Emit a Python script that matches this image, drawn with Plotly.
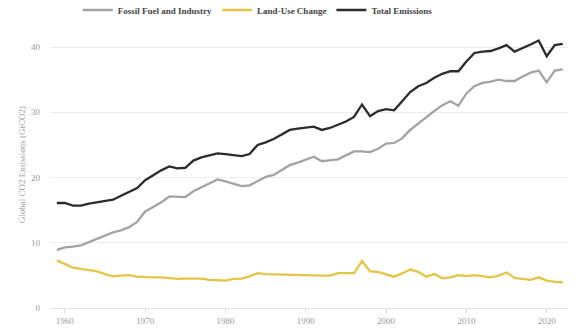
import plotly.graph_objects as go

years = list(range(1959, 2023))

fossil = [8.9, 9.3, 9.4, 9.6, 10.1, 10.6, 11.1, 11.6, 11.9, 12.4, 13.2,
          14.8, 15.5, 16.2, 17.1, 17.0, 17.0, 17.9, 18.5, 19.1, 19.7,
          19.4, 19.0, 18.7, 18.8, 19.5, 20.1, 20.4, 21.1, 21.9, 22.3,
          22.7, 23.2, 22.5, 22.7, 22.8, 23.4, 24.0, 24.0, 23.9, 24.4,
          25.2, 25.3, 26.0, 27.3, 28.3, 29.3, 30.2, 31.1, 31.7, 31.0,
          32.9, 34.0, 34.5, 34.7, 35.0, 34.8, 34.8, 35.5, 36.1, 36.4,
          34.6, 36.4, 36.6]

land_use = [7.3, 6.75, 6.2, 6.0, 5.8, 5.6, 5.2, 4.85, 4.95, 5.05, 4.8,
            4.7, 4.7, 4.7, 4.55, 4.45, 4.5, 4.45, 4.5, 4.3, 4.2,
            4.2, 4.45, 4.5, 4.85, 5.35, 5.2, 5.15, 5.15, 5.15, 5.0,
            4.95, 4.9, 4.95, 4.95, 5.35, 5.35, 5.35, 7.2, 5.6, 5.55,
            5.2, 4.8, 5.3, 5.9, 5.55, 4.8, 5.2, 4.55, 4.7, 5.05,
            4.9, 5.05, 4.9, 4.7, 4.95, 5.45, 4.6, 4.4, 4.3, 4.7,
            4.2, 4.0, 3.95]

total = [16.1, 16.1, 15.7, 15.7, 16.0, 16.2, 16.3, 16.6, 17.2, 17.8, 18.4,
         19.6, 20.4, 21.1, 21.7, 21.4, 21.5, 22.6, 23.1, 23.4, 23.7,
         23.6, 23.5, 23.3, 23.6, 25.0, 25.4, 25.9, 26.6, 27.3, 27.5,
         27.6, 27.8, 27.3, 27.6, 28.1, 28.6, 29.3, 31.2, 29.4, 30.2,
         30.5, 30.3, 31.7, 33.1, 34.0, 34.5, 35.3, 35.9, 36.3, 36.3,
         37.8, 39.1, 39.3, 39.4, 39.8, 40.3, 39.3, 39.8, 40.4, 41.0,
         38.6, 40.3, 40.5]

fig = go.Figure()
fig.add_trace(go.Scatter(x=years, y=fossil, mode="lines", name="Fossil Fuel and Industry",
                         line=dict(color="#a3a3a3", width=2.3)))
fig.add_trace(go.Scatter(x=years, y=land_use, mode="lines", name="Land-Use Change",
                         line=dict(color="#e6c446", width=2.3)))
fig.add_trace(go.Scatter(x=years, y=total, mode="lines", name="Total Emissions",
                         line=dict(color="#2b2b2b", width=2.3)))

fig.update_layout(
    width=586, height=333,
    margin=dict(l=50, r=18, t=21, b=25, autoexpand=False),
    paper_bgcolor="white", plot_bgcolor="white",
    font=dict(family="Liberation Serif", size=9, color="#999999"),
    showlegend=True,
    legend=dict(orientation="h", xref="container", yref="container",
                x=0.44, xanchor="center", y=0.97, yanchor="middle",
                font=dict(family="Liberation Serif", size=9, color="#444444", weight="bold"),
                itemwidth=30, tracegroupgap=0),
    xaxis=dict(range=[1958.15, 2022.65], tickvals=[1960, 1970, 1980, 1990, 2000, 2010, 2020],
               showgrid=False, showline=True, linecolor="#e3e3e3", linewidth=1,
               ticks="outside", ticklen=4, tickcolor="#dddddd",
               tickfont=dict(family="Liberation Serif", size=9, color="#999999"),
               zeroline=False),
    yaxis=dict(range=[0, 44], tickvals=[0, 10, 20, 30, 40],
               showgrid=True, gridcolor="#ececec", gridwidth=1,
               zeroline=False, showline=False, ticks="",
               ticklabelstandoff=9,
               tickfont=dict(family="Liberation Serif", size=9, color="#999999"),
               title=dict(text="Global CO2 Emissions (GtCO2)",
                          font=dict(family="Liberation Serif", size=9, color="#999999"),
                          standoff=3)),
)

fig.write_html("out.html")
